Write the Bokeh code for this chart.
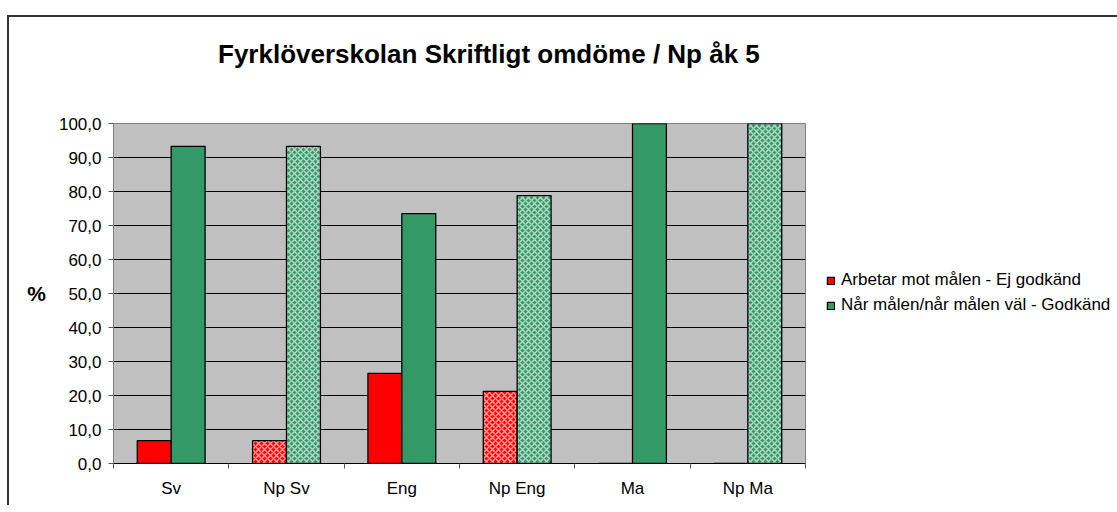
from bokeh.plotting import figure
from bokeh.models import ColumnDataSource, FixedTicker, Legend, LegendItem, Div
from bokeh.layouts import column
from bokeh.embed import file_html
from bokeh.resources import INLINE

# ---- data ----
categories = ["Sv", "Np Sv", "Eng", "Np Eng", "Ma", "Np Ma"]
is_np = [False, True, False, True, False, True]
ej_godkand = [6.7, 6.7, 26.5, 21.2, 0.0, 0.0]
godkand = [93.3, 93.3, 73.5, 78.8, 100.0, 100.0]
y_ticks = [0, 10, 20, 30, 40, 50, 60, 70, 80, 90, 100]
y_tick_labels = ["0,0", "10,0", "20,0", "30,0", "40,0", "50,0", "60,0", "70,0", "80,0", "90,0", "100,0"]
title_text = "Fyrklöverskolan Skriftligt omdöme / Np åk 5"
series_names = ["Arbetar mot målen - Ej godkänd", "Når målen/når målen väl - Godkänd"]

RED = "#FF0000"
GREEN = "#339966"
FONT = "Liberation Sans"

title_div = Div(text=f'<div style="font-family:\'{FONT}\';font-size:26px;font-weight:bold;'
                     f'color:black;white-space:nowrap;padding:23px 0 0 209px;line-height:1.15">{title_text}</div>',
                width=1108, height=63, styles={"margin": "0", "padding": "0"})

p = figure(frame_width=692, frame_height=340, output_backend="svg", toolbar_location=None,
           x_range=(0, len(categories)), y_range=(0, 100),
           min_border_left=104, min_border_right=312,
           min_border_top=43, min_border_bottom=42)
p.title = None

p.background_fill_color = "#C0C0C0"
p.border_fill_color = "white"
p.outline_line_color = "#808080"
p.outline_line_width = 1

idx = list(range(len(categories)))
bw = 0.294
def src(values, shift, np_flag):
    xs = [i + 0.5 + shift for i in idx if is_np[i] == np_flag]
    ys = [values[i] for i in idx if is_np[i] == np_flag]
    return ColumnDataSource(dict(x=xs, top=ys))

common = dict(width=bw, bottom=0, line_color="black", line_width=1.3)
hatch = dict(hatch_pattern="diagonal_cross", hatch_color="white", hatch_alpha=0.62,
             hatch_scale=6, hatch_weight=1.5)
r_red = p.vbar(x="x", top="top", source=src(ej_godkand, -0.147, False), fill_color=RED, **common)
r_red_np = p.vbar(x="x", top="top", source=src(ej_godkand, -0.147, True), fill_color=RED,
                  **hatch, **common)
r_green = p.vbar(x="x", top="top", source=src(godkand, 0.147, False), fill_color=GREEN, **common)
r_green_np = p.vbar(x="x", top="top", source=src(godkand, 0.147, True), fill_color=GREEN,
                    **hatch, **common)

# y axis
p.yaxis.ticker = FixedTicker(ticks=y_ticks)
p.yaxis.major_label_overrides = {t_: l for t_, l in zip(y_ticks, y_tick_labels)}
p.yaxis.minor_tick_line_color = None
p.yaxis.major_tick_out = 5
p.yaxis.major_tick_in = 0
p.yaxis.major_tick_line_color = "#555555"
p.yaxis.axis_line_color = "#808080"
p.yaxis.major_label_text_font = FONT
p.yaxis.major_label_text_font_size = "17px"
p.yaxis.major_label_text_color = "black"
p.yaxis.major_label_standoff = 7
p.yaxis.axis_label = "%"
p.yaxis.axis_label_orientation = "horizontal"
p.yaxis.axis_label_text_font = FONT
p.yaxis.axis_label_text_font_size = "21px"
p.yaxis.axis_label_text_font_style = "bold"
p.yaxis.axis_label_text_color = "black"
p.yaxis.axis_label_standoff = 10

# x axis
p.xaxis.ticker = FixedTicker(ticks=[i + 0.5 for i in idx], minor_ticks=list(range(len(categories) + 1)))
p.xaxis.major_label_overrides = {i + 0.5: c for i, c in zip(idx, categories)}
p.xaxis.major_tick_line_color = None
p.xaxis.minor_tick_out = 5
p.xaxis.minor_tick_in = 0
p.xaxis.minor_tick_line_color = "#555555"
p.xaxis.axis_line_color = "black"
p.xaxis.major_label_text_font = FONT
p.xaxis.major_label_text_font_size = "17px"
p.xaxis.major_label_text_color = "black"
p.xaxis.major_label_standoff = 9

p.xgrid.grid_line_color = None
p.ygrid.ticker = FixedTicker(ticks=y_ticks)
p.ygrid.grid_line_color = "black"
p.ygrid.grid_line_width = 1

legend = Legend(items=[LegendItem(label=series_names[0], renderers=[r_red]),
                       LegendItem(label=series_names[1], renderers=[r_green])],
                location=(21, 148), orientation="vertical",
                glyph_width=9, glyph_height=9, label_standoff=6, spacing=5, label_height=20,
                label_text_font=FONT, label_text_font_size="17px", label_text_color="black",
                background_fill_alpha=0, border_line_color=None, padding=0, margin=0)
p.add_layout(legend, "right")

layout = column(title_div, p, spacing=0,
                styles={"border-left": "2px solid #333333", "border-top": "2px solid #333333",
                        "margin-top": "15px", "margin-left": "7px"})

open("out.html", "w").write(file_html(layout, INLINE))
